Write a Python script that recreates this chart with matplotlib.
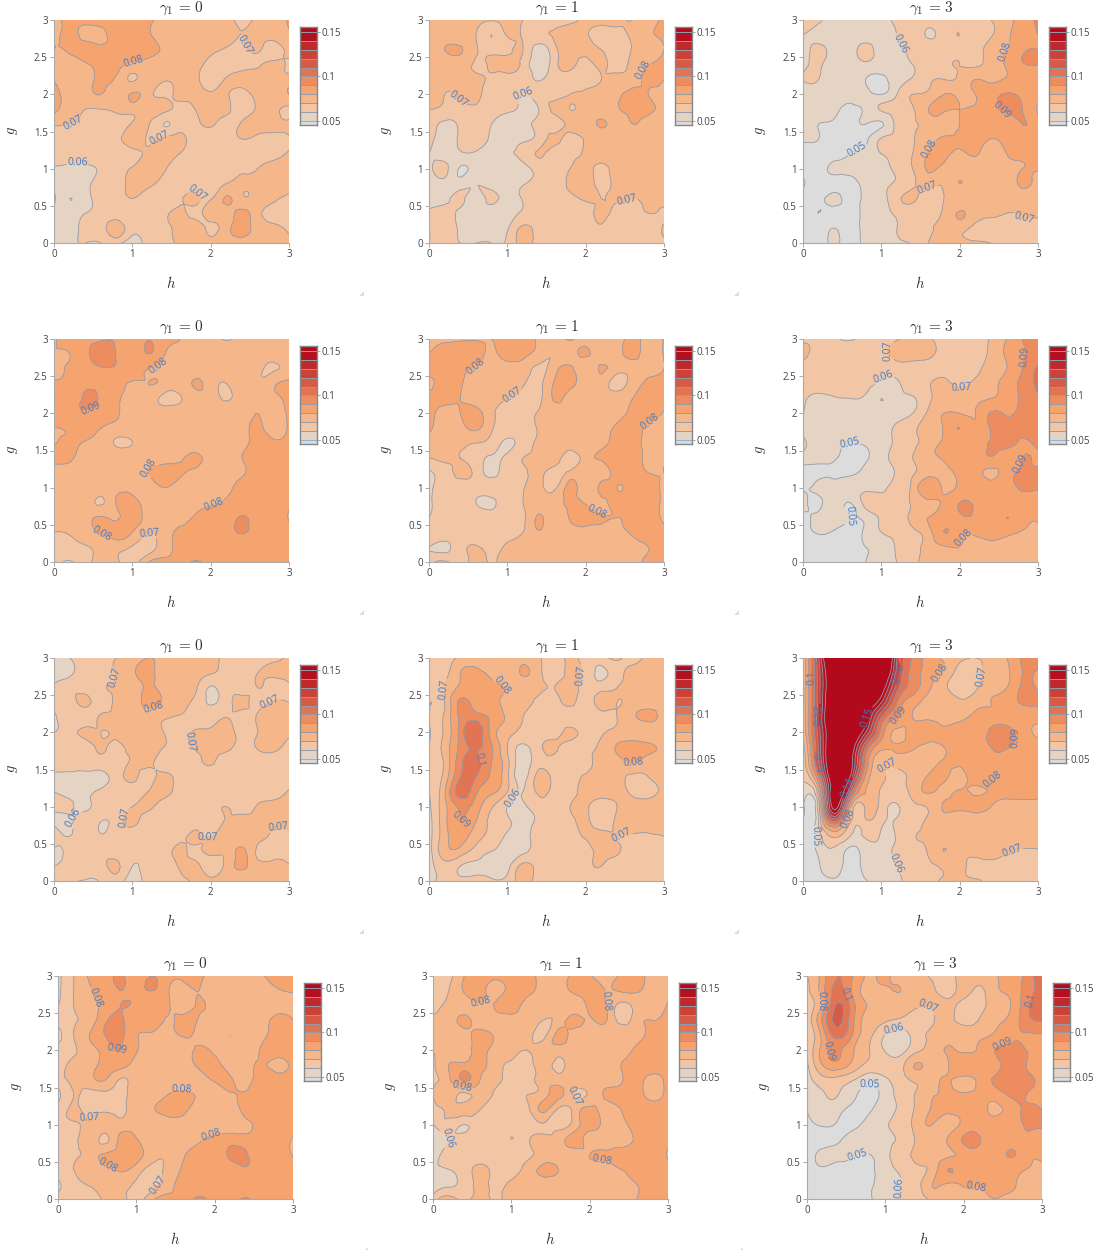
# contour panels, values in units of 0.001
# each grid: top row is g=3.0, bottom row g=0, left column h=0, right column h=3 (step 0.2)
import numpy as np
import matplotlib
matplotlib.use("Agg")
import matplotlib.pyplot as plt
import matplotlib.tri as mtri
from matplotlib.patches import Polygon

plt.rcParams["font.family"] = ["Open Sans", "DejaVu Sans"]
plt.rcParams["mathtext.fontset"] = "cm"

h_vals = np.arange(16) * 0.2
g_vals = np.arange(16) * 0.2
gamma_vals = [0, 1, 3]

z_r1c1 = [
    [78,82,83,84,83,82,81,78,75,71,74,73,68,72,76,81],
    [77,82,78,78,83,84,81,77,75,73,74,72,70,72,74,79],
    [80,81,83,82,82,83,82,79,75,74,72,69,68,71,66,75],
    [74,77,79,83,83,78,78,75,74,73,67,65,67,69,72,68],
    [79,74,76,82,78,69,75,71,73,72,66,71,73,76,74,74],
    [84,75,75,80,75,81,74,68,72,72,71,71,66,74,76,80],
    [83,74,70,70,72,74,72,73,67,70,73,72,66,71,72,68],
    [71,70,69,67,66,71,71,60,65,68,71,67,71,73,73,72],
    [67,67,66,66,67,75,69,72,73,67,66,67,70,68,67,69],
    [65,65,65,65,66,67,72,75,70,66,66,66,66,67,68,71],
    [59,58,58,61,65,71,74,71,66,65,65,66,68,70,72,73],
    [56,56,58,63,66,73,72,68,66,65,65,70,72,73,74,75],
    [62,50,57,62,65,70,66,65,68,72,69,81,72,74,72,67],
    [56,56,60,62,64,65,66,68,72,68,73,75,83,73,67,65],
    [55,56,62,65,76,63,66,68,74,76,68,76,84,76,72,68],
    [55,58,60,60,62,55,64,66,72,74,75,76,78,76,74,72],
]
z_r1c2 = [
    [73,74,75,74,71,73,70,67,66,68,72,74,72,70,75,82],
    [73,74,74,70,60,71,69,68,71,73,71,66,67,72,78,82],
    [73,80,81,71,66,67,70,55,67,73,72,70,64,71,75,80],
    [72,73,74,69,72,75,67,54,66,73,67,72,66,74,80,83],
    [72,73,73,72,68,66,67,59,67,66,66,70,73,76,82,80],
    [78,70,72,73,66,67,60,65,67,70,72,74,78,83,80,78],
    [70,68,67,68,65,62,58,60,72,70,73,75,79,83,82,76],
    [66,58,62,66,60,57,56,63,66,72,74,81,77,80,76,75],
    [63,56,62,66,58,56,58,64,72,67,71,74,79,76,75,75],
    [60,55,58,58,55,59,63,71,65,66,71,73,74,74,75,74],
    [56,63,49,55,55,56,57,64,66,70,73,68,74,74,74,74],
    [57,56,55,60,56,56,59,64,66,72,74,68,72,71,73,74],
    [56,57,62,56,62,56,61,65,67,68,71,70,71,70,72,74],
    [61,64,58,56,55,56,62,66,66,67,68,71,68,67,70,68],
    [60,66,58,55,55,59,72,66,66,66,67,69,65,66,66,71],
    [60,61,60,60,60,62,73,66,65,65,66,65,65,66,66,68],
]
z_r1c3 = [
    [66,62,56,60,56,57,62,65,66,66,69,66,70,77,84,92],
    [60,57,55,55,56,57,60,65,59,65,70,67,69,78,85,90],
    [55,62,56,55,63,56,58,62,65,66,69,66,75,80,88,90],
    [58,61,55,54,58,55,57,60,65,68,70,68,75,81,89,90],
    [60,60,54,54,50,47,56,61,68,70,72,80,78,81,82,83],
    [57,56,54,53,53,50,60,70,72,80,78,80,85,91,87,82],
    [52,54,52,48,52,61,64,69,80,81,80,81,86,92,90,79],
    [52,50,49,47,50,49,63,69,74,78,80,84,86,84,90,85],
    [51,50,47,47,48,61,63,69,76,81,81,84,80,83,85,85],
    [46,46,46,50,54,60,63,70,81,83,78,81,75,80,82,83],
    [46,46,52,52,55,57,62,70,81,77,74,75,78,78,80,81],
    [51,46,47,47,53,58,61,68,74,72,80,73,74,74,82,74],
    [46,47,52,47,52,57,67,72,65,70,73,73,74,74,74,73],
    [46,50,47,47,51,54,62,64,67,72,81,74,72,70,71,71],
    [46,46,50,47,52,53,60,66,69,72,73,68,66,66,66,66],
    [46,46,51,47,52,55,58,61,70,72,72,71,70,66,65,64],
]
z_r2c1 = [
    [79,84,87,88,88,81,89,82,80,75,75,69,75,75,75,74],
    [80,80,87,96,89,82,90,81,77,75,75,76,75,75,75,75],
    [79,81,85,89,89,85,80,78,75,75,75,75,75,72,69,74],
    [82,82,87,87,84,79,80,77,75,81,75,70,75,71,78,82],
    [91,82,92,88,81,78,75,68,69,75,75,69,75,76,78,82],
    [82,87,89,86,81,76,75,75,75,75,75,75,76,80,76,82],
    [80,82,85,80,76,75,75,75,75,75,75,75,76,82,75,82],
    [79,82,79,75,69,70,75,75,75,75,75,75,77,83,82,83],
    [83,82,75,75,76,76,76,76,78,82,76,76,80,83,83,83],
    [75,75,75,75,75,76,80,84,82,78,76,76,79,83,84,84],
    [75,75,75,75,76,76,75,80,76,76,75,77,83,83,84,84],
    [75,75,75,69,81,84,76,76,75,77,79,81,83,84,85,83],
    [75,75,76,81,79,84,76,74,76,81,83,83,91,84,84,79],
    [70,71,76,81,84,80,71,74,82,84,85,85,91,85,85,85],
    [66,66,69,73,74,69,66,75,82,84,84,84,84,85,85,84],
    [65,59,67,73,72,66,80,83,85,91,86,85,90,85,85,85],
]
z_r2c2 = [
    [77,78,79,79,80,84,85,78,75,81,75,75,75,83,75,81],
    [80,84,84,84,78,85,83,76,70,76,81,75,76,83,75,81],
    [84,84,82,79,75,75,75,68,76,82,75,81,74,75,78,80],
    [78,83,81,75,75,74,71,68,81,83,76,75,66,75,81,83],
    [83,83,80,75,73,70,66,67,81,76,75,75,75,80,84,84],
    [84,76,80,84,72,68,66,71,75,75,75,75,77,82,84,79],
    [82,74,76,82,71,67,66,71,75,75,75,76,82,84,78,75],
    [75,74,72,70,66,58,65,71,73,75,75,77,84,84,77,75],
    [70,72,70,65,58,63,70,73,75,65,75,81,84,85,77,79],
    [58,66,72,67,57,66,68,73,65,73,75,76,83,84,80,80],
    [57,66,66,65,65,65,69,73,68,83,75,82,80,84,84,78],
    [58,66,66,60,58,66,70,75,75,82,79,78,82,84,84,78],
    [60,66,66,65,65,67,68,81,74,81,84,81,80,83,84,78],
    [65,66,66,66,65,66,70,79,75,75,76,76,78,81,84,83],
    [60,58,66,71,67,72,75,75,75,75,75,75,75,77,80,84],
    [66,72,66,74,69,75,75,75,75,75,75,75,75,75,83,81],
]
z_r2c3 = [
    [68,67,62,59,63,66,69,74,71,67,66,67,71,80,90,100],
    [72,67,65,65,66,68,73,74,72,67,66,67,72,82,89,93],
    [66,66,65,65,64,63,65,66,67,67,67,68,74,80,90,102],
    [65,65,65,64,63,58,59,64,69,72,68,72,76,85,92,103],
    [62,57,59,60,58,50,56,59,68,74,75,78,80,84,92,98],
    [60,54,55,55,55,55,56,60,72,80,80,80,91,89,93,95],
    [57,56,56,56,54,55,62,68,75,81,90,82,91,93,93,95],
    [62,55,52,50,51,55,62,68,75,81,82,86,91,93,89,93],
    [55,53,51,47,49,56,64,70,77,81,83,84,89,85,90,87],
    [47,48,48,48,53,56,61,69,75,76,83,84,78,85,92,93],
    [48,52,54,55,57,57,64,73,90,78,83,85,85,85,92,92],
    [54,48,55,50,64,65,66,71,77,82,90,88,84,85,84,82],
    [47,53,55,50,53,62,67,72,80,83,88,88,84,90,84,82],
    [46,51,49,47,52,60,63,68,76,90,83,82,85,83,79,74],
    [46,46,46,47,50,53,61,66,74,79,80,76,76,76,74,73],
    [46,46,46,46,50,55,60,67,74,75,75,75,75,75,75,74],
]
z_r3c1 = [
    [60,60,66,67,70,73,80,76,73,73,72,68,66,66,67,72],
    [57,58,65,66,71,78,84,73,73,72,71,66,66,70,72,74],
    [62,66,66,68,71,72,82,75,73,72,59,66,66,70,66,68],
    [64,65,72,66,72,73,84,78,73,67,59,66,72,68,71,70],
    [58,66,66,71,72,73,73,71,69,66,65,70,66,71,74,74],
    [60,66,72,70,72,74,75,70,66,71,72,74,66,70,73,72],
    [65,66,66,71,68,73,73,70,66,71,73,73,66,71,72,67],
    [64,65,66,66,67,71,72,66,66,67,71,66,66,65,66,66],
    [58,57,56,57,65,72,67,73,66,66,66,66,66,66,65,65],
    [60,56,57,62,65,66,70,74,66,66,66,61,65,65,66,71],
    [65,62,58,65,66,70,72,66,65,65,66,70,66,71,73,74],
    [56,58,66,60,65,72,66,65,60,65,67,71,73,73,72,74],
    [70,60,66,61,66,66,66,66,66,72,70,78,74,73,68,67],
    [56,63,66,66,66,65,65,66,72,68,72,73,82,68,66,66],
    [60,66,66,66,72,60,65,66,71,73,65,73,82,74,73,71],
    [62,61,59,61,64,56,64,66,66,72,74,74,74,74,74,74],
]
z_r3c2 = [
    [61,64,72,75,76,76,76,72,66,72,66,66,72,66,74,76],
    [61,66,80,82,78,74,81,73,66,72,67,58,66,73,76,76],
    [61,70,82,84,82,79,74,72,70,74,66,66,70,74,74,75],
    [60,70,92,85,82,77,72,68,66,72,66,74,70,75,76,76],
    [60,72,92,96,88,78,70,67,66,66,66,66,70,78,82,76],
    [59,72,94,108,86,74,67,66,66,72,66,68,73,75,75,75],
    [60,74,93,102,91,70,58,67,72,66,68,72,81,85,82,76],
    [60,72,97,103,90,73,55,66,66,66,68,73,76,81,75,76],
    [60,74,100,100,88,72,56,74,66,66,71,75,74,68,70,74],
    [60,79,105,92,82,70,60,72,66,66,73,75,74,68,67,73],
    [58,77,92,85,71,60,58,66,66,70,72,64,70,74,75,76],
    [56,77,90,80,68,62,56,63,66,67,72,65,72,74,74,74],
    [56,76,85,74,67,58,55,66,66,66,71,72,70,69,69,70],
    [55,76,76,66,60,56,57,66,66,66,68,72,71,66,66,66],
    [54,66,60,58,55,57,73,66,66,66,68,70,65,66,66,66],
    [54,64,64,64,62,64,73,66,65,65,66,66,66,66,66,66],
]
z_r3c3 = [
    [72,130,190,210,210,200,130,100,85,79,73,70,72,80,92,100],
    [72,125,175,190,190,180,125,97,85,78,65,65,75,78,90,88],
    [73,125,170,180,175,160,115,95,82,72,65,68,78,80,92,88],
    [74,125,175,180,165,140,100,84,77,78,72,76,80,84,91,91],
    [72,128,175,175,155,110,90,80,79,78,78,82,84,85,84,84],
    [71,125,170,172,140,96,78,83,83,82,84,84,92,94,85,78],
    [66,122,175,165,110,83,81,81,78,80,84,86,90,91,85,85],
    [64,118,175,160,98,72,74,76,77,81,82,84,87,85,84,85],
    [61,100,170,150,88,71,68,73,81,82,77,84,81,82,85,85],
    [59,78,165,120,80,69,66,73,81,78,81,79,81,83,85,85],
    [53,65,155,85,72,66,59,67,71,81,82,83,80,76,75,74],
    [50,60,110,72,68,62,61,65,72,75,75,74,74,75,75,74],
    [48,55,72,60,61,59,61,69,72,74,74,75,75,75,75,75],
    [46,52,58,47,55,58,62,66,71,80,74,74,74,71,69,69],
    [46,49,55,46,54,58,60,65,68,72,73,66,67,66,66,66],
    [46,46,48,47,49,56,58,64,66,72,72,72,66,66,66,70],
]
z_r4c1 = [
    [58,70,81,86,91,85,90,83,82,82,76,75,74,79,82,83],
    [58,70,79,84,90,88,90,81,76,80,74,75,75,76,79,81],
    [60,70,77,83,90,87,81,81,75,81,76,75,75,75,76,76],
    [63,69,75,88,92,83,84,79,84,79,75,75,75,76,83,80],
    [56,70,80,90,92,81,78,76,81,77,75,80,75,77,84,82],
    [65,69,76,84,90,81,76,75,75,82,78,75,75,81,85,85],
    [66,72,76,84,84,76,75,75,75,82,83,76,76,81,77,84],
    [66,72,76,80,69,75,75,75,75,76,81,81,78,84,85,85],
    [56,70,67,67,67,75,76,80,83,78,75,79,81,84,85,85],
    [65,71,68,68,68,74,79,84,83,75,75,75,83,84,85,85],
    [66,69,72,75,74,75,75,75,75,75,76,76,78,83,85,85],
    [66,66,76,68,83,81,75,75,75,79,82,85,84,85,85,79],
    [66,67,75,81,84,84,74,72,79,82,82,92,91,85,85,79],
    [66,70,77,78,81,76,67,73,81,84,85,85,89,85,85,85],
    [58,66,71,75,75,68,66,76,83,85,85,85,85,85,85,85],
    [65,66,66,72,74,66,78,83,84,92,85,85,91,85,84,84],
]
z_r4c2 = [
    [63,67,80,84,84,85,85,76,75,82,81,75,82,84,76,78],
    [63,70,81,84,76,85,84,76,75,82,84,80,81,81,76,78],
    [66,72,76,78,81,86,75,75,75,75,82,81,67,74,76,81],
    [72,75,82,75,75,75,75,70,74,83,79,81,67,76,80,83],
    [73,75,76,84,78,75,75,67,83,75,75,75,76,78,82,85],
    [70,76,76,83,76,74,70,76,75,75,75,75,76,82,85,85],
    [68,80,83,83,74,68,67,73,68,75,75,75,80,85,85,85],
    [68,78,91,80,72,66,66,74,75,75,75,76,79,84,76,85],
    [70,76,68,74,68,66,70,75,83,70,72,81,84,85,76,85],
    [66,72,74,70,66,66,67,82,68,73,83,76,80,84,85,85],
    [59,67,60,66,65,65,66,69,66,74,85,76,77,84,85,85],
    [52,60,65,66,66,60,68,73,75,84,76,75,75,83,90,84],
    [54,64,66,66,66,66,68,74,75,75,80,81,84,85,85,79],
    [58,60,66,72,67,66,74,82,80,75,75,76,80,84,85,85],
    [56,58,64,72,68,72,75,75,75,75,75,75,77,80,84,85],
    [63,76,67,75,68,76,75,75,75,75,75,76,76,80,85,85],
]
z_r4c3 = [
    [70,85,100,88,79,81,76,74,68,65,74,75,79,84,93,108],
    [68,86,104,86,79,79,80,75,72,66,73,68,78,82,95,102],
    [66,84,112,92,79,75,75,71,71,73,66,66,75,80,97,103],
    [63,92,113,90,76,71,68,66,69,73,66,71,78,83,96,101],
    [60,84,104,87,72,59,55,65,72,76,77,78,82,88,89,89],
    [60,84,92,80,70,59,56,68,74,81,78,82,90,91,90,88],
    [58,80,86,76,67,65,67,81,74,79,90,83,87,92,90,89],
    [55,66,66,60,53,58,66,72,76,81,76,83,91,92,91,89],
    [52,59,60,52,47,54,64,71,79,82,82,83,85,91,90,89],
    [50,57,53,47,49,56,62,72,81,83,84,84,78,85,91,90],
    [47,51,49,48,54,59,64,74,80,74,83,84,84,85,91,92],
    [46,47,49,53,55,58,62,71,75,81,91,91,84,84,88,84],
    [46,52,52,51,50,57,66,72,75,78,83,84,83,91,84,83],
    [46,49,47,47,48,56,62,68,74,90,83,81,81,82,80,76],
    [46,46,46,46,49,54,60,66,80,79,81,81,84,82,76,74],
    [46,46,46,46,49,56,60,66,71,73,75,75,80,75,75,74],
]

# contour label spots: (level, h, g)
labels_r1c1 = [(.08,.97,2.65),(.07,2.5,2.7),(.07,.25,1.6),(.07,1.32,1.45),(.06,.3,1.03),(.07,1.8,.65)]
labels_r1c2 = [(.08,2.67,2.35),(.07,.33,1.9),(.06,1.2,2.0),(.07,2.5,.65)]
labels_r1c3 = [(.06,1.24,2.68),(.08,2.5,2.62),(.05,.72,1.18),(.09,2.47,1.67),(.08,1.59,1.28),(.07,1.6,.67),(.07,2.81,.32)]
labels_r2c1 = [(.08,1.35,2.57),(.09,.51,1.88),(.08,1.23,1.24),(.08,2.07,.7),(.07,1.2,.43),(.08,.59,.35)]
labels_r2c2 = [(.08,.6,2.63),(.07,1.09,2.2),(.08,2.84,1.87),(.08,2.15,.7)]
labels_r2c3 = [(.07,1.11,2.84),(.06,1.01,2.52),(.07,2.03,2.27),(.05,.59,1.67),(.09,2.75,1.33),(.05,.6,.62),(.08,2.12,.3),(.09,2.73,2.8)]
labels_r3c1 = [(.07,.72,2.74),(.08,1.28,2.3),(.07,2.78,2.37),(.07,1.79,1.88),(.06,.26,.85),(.07,.92,.85),(.07,1.97,.53),(.07,2.87,.72)]
labels_r3c2 = [(.07,.18,2.58),(.08,.99,2.77),(.07,1.93,2.77),(.1,.54,1.6),(.09,.38,.83),(.08,2.61,1.57),(.06,1.12,1.07),(.07,2.45,.66)]
labels_r3c3 = [(.1,.15,2.74),(.13,.21,2.23),(.11,.15,1.58),(.15,.95,2.17),(.14,.62,1.23),(.12,1.29,2.77),(.09,1.29,2.17),(.08,.66,.81),(.05,.18,.6),(.07,1.07,1.58),(.06,1.07,.16),(.08,1.74,2.8),(.07,2.32,2.74),(.09,2.72,1.93),(.08,2.4,1.4),(.07,2.69,.35)]
labels_r4c1 = [(.08,.37,2.66),(.09,.64,1.82),(.07,.4,1.1),(.08,1.58,1.41),(.08,2.0,.7),(.08,.63,.42),(.07,1.26,.2)]
labels_r4c2 = [(.08,.64,2.52),(.08,2.2,2.66),(.08,.37,1.5),(.07,1.74,1.36),(.06,.22,.83),(.08,2.16,.46)]
labels_r4c3 = [(.08,.17,2.66),(.1,.51,2.76),(.07,1.56,2.64),(.06,1.12,2.26),(.09,.28,1.98),(.09,2.49,2.15),(.05,.8,1.56),(.05,.61,.67),(.06,1.12,.17),(.08,2.16,.3),(.1,2.83,2.68)]

grids = [z_r1c1, z_r1c2, z_r1c3, z_r2c1, z_r2c2, z_r2c3, z_r3c1, z_r3c2, z_r3c3, z_r4c1, z_r4c2, z_r4c3]
all_labels = [labels_r1c1, labels_r1c2, labels_r1c3, labels_r2c1, labels_r2c2, labels_r2c3,
              labels_r3c1, labels_r3c2, labels_r3c3, labels_r4c1, labels_r4c2, labels_r4c3]

# pixel layout of the page
W, H = 1095, 1250
row_tops = [20, 339, 658, 976]
col_lefts = [[54, 429, 803], [54, 429, 803], [54, 429, 803], [58, 433, 807]]
ax_w, ax_h = 235, 223

levels = np.round(np.arange(0.05, 0.151, 0.01), 2)
bar_lo, bar_hi = 0.0455, 0.1556


def reds(t):
    # gray to dark red scale of the original chart
    stops = [0, 0.2, 0.4, 1]
    r = np.interp(t, stops, [220, 245, 245, 178]) / 255
    g = np.interp(t, stops, [220, 195, 160, 10]) / 255
    b = np.interp(t, stops, [220, 157, 105, 28]) / 255
    return (r, g, b)


band_colors = [reds(0)] + [reds((k + 0.75) / 10) for k in range(10)] + [reds(1)]
line_col = "#939cab"
label_col = "#3d7cc9"
tick_col = "#444444"
edge_col = "#aaaaaa"

fig = plt.figure(figsize=(W / 100, H / 100), dpi=100)


def px_axes(x, y, w, h):
    return fig.add_axes([x / W, 1 - (y + h) / H, w / W, h / H])


hh, gg = np.meshgrid(h_vals, g_vals)
tri = mtri.Triangulation(hh.ravel(), gg.ravel())
refiner = mtri.UniformTriRefiner(tri)

for i in range(12):
    r, c = i // 3, i % 3
    left, top = col_lefts[r][c], row_tops[r]
    ax = px_axes(left, top, ax_w, ax_h)

    z = np.array(grids[i], dtype=float)[::-1] / 1000
    tri_f, z_f = refiner.refine_field(z.ravel(), subdiv=3)
    ax.tricontourf(tri_f, z_f, levels=levels, colors=band_colors, extend="both")
    # one contour set per level, so that a label stays on its own level
    for lev in levels:
        if not z_f.min() < lev < z_f.max():
            continue
        cs = ax.tricontour(tri_f, z_f, levels=[lev], colors=line_col, linewidths=0.6)
        spots = [(lx, ly) for l, lx, ly in all_labels[i] if abs(l - lev) < 1e-6]
        if spots:
            cs.clabel(manual=spots, fmt="%g", fontsize=7.4, colors=label_col,
                      inline=True, inline_spacing=1)

    ax.set_xlim(0, 3)
    ax.set_ylim(0, 3)
    ax.set_xticks([0, 1, 2, 3])
    ax.set_xticklabels(["0", "1", "2", "3"])
    ax.set_yticks([0, 0.5, 1, 1.5, 2, 2.5, 3])
    ax.set_yticklabels(["0", "0.5", "1", "1.5", "2", "2.5", "3"])
    ax.tick_params(labelsize=7, length=3, width=0.7, color=edge_col, labelcolor=tick_col, pad=1.5)
    ax.spines["top"].set_visible(False)
    ax.spines["right"].set_visible(False)
    ax.spines["left"].set_color(edge_col)
    ax.spines["bottom"].set_color(edge_col)
    fig.text((left + 128) / W, 1 - (top - 12) / H, r"$\gamma_1\,=\,%d$" % gamma_vals[c], fontsize=11,
             ha="center", va="center", color="#333333")
    fig.text((left + ax_w / 2) / W, 1 - (top + 264) / H, r"$h$", fontsize=10.5,
             ha="center", va="center", color="#333333")
    fig.text((left - 42) / W, 1 - (top + 111) / H, r"$g$", fontsize=10.5, rotation=90,
             ha="center", va="center", color="#333333")

    # colorbar
    cax = px_axes(left + 246, top + 7, 17, 98)
    edges = np.concatenate([[bar_lo], levels, [bar_hi]])
    cax.bar(np.zeros(12), np.diff(edges), bottom=edges[:-1], width=1, color=band_colors)
    cax.hlines(levels[1:], -0.5, 0.5, colors=line_col, linewidth=0.7)
    cax.hlines(levels[0], -0.5, 0.5, colors="#8fb4d8", linewidth=0.8)
    cax.set_xlim(-0.5, 0.5)
    cax.set_ylim(bar_lo, bar_hi)
    cax.set_xticks([])
    cax.yaxis.tick_right()
    cax.set_yticks([0.05, 0.1, 0.15])
    cax.set_yticklabels(["0.05", "0.1", "0.15"])
    cax.tick_params(labelsize=7, length=2, width=0.7, color=edge_col, labelcolor=tick_col, pad=1.5)
    for s in cax.spines.values():
        s.set_color("#888888")
        s.set_linewidth(1)

    # resize grip in the corner of each output cell
    gx, gy = left + 310, top + 276
    if gx < W:
        fig.add_artist(Polygon([[gx / W, 1 - gy / H], [(gx - 5) / W, 1 - gy / H], [gx / W, 1 - (gy - 5) / H]],
                               transform=fig.transFigure, color="#dddddd", lw=0))

fig.savefig("out.png", dpi=100)
